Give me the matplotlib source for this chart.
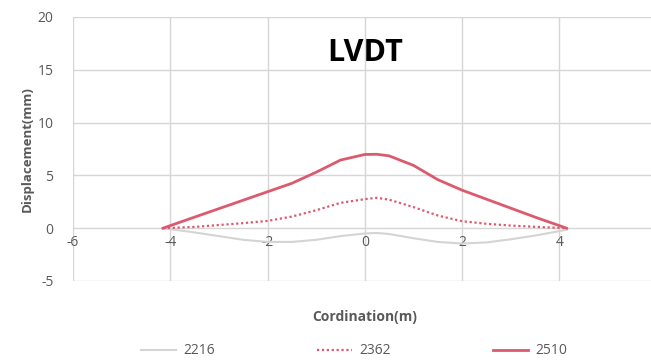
import numpy as np
import matplotlib
matplotlib.use("Agg")
import matplotlib.pyplot as plt

plt.rcParams['font.family'] = ['Open Sans', 'DejaVu Sans']
plt.rcParams['axes.unicode_minus'] = False

# ==========================================
# 数据
# ==========================================
x_pos = [-4.15, -3.5, -3.0, -2.5, -2.0, -1.5, -1.0, -0.5, 0.0, 0.25, 0.5, 1.0, 1.5, 2.0, 2.5, 3.0, 3.5, 4.15]
y_2216 = [0.0, -0.4, -0.75, -1.1, -1.3, -1.3, -1.1, -0.75, -0.5, -0.45, -0.55, -0.95, -1.3, -1.45, -1.35, -1.05, -0.7, -0.15]
y_2362 = [0.0, 0.12, 0.3, 0.48, 0.69, 1.1, 1.7, 2.4, 2.75, 2.88, 2.7, 2.0, 1.2, 0.66, 0.42, 0.25, 0.13, 0.0]
y_2510 = [0.0, 1.05, 1.85, 2.65, 3.45, 4.25, 5.3, 6.45, 6.98, 7.0, 6.85, 5.95, 4.6, 3.6, 2.75, 1.9, 1.05, 0.0]

x_ticks = [-6, -4, -2, 0, 2, 4, 6]
y_ticks = [-5, 0, 5, 10, 15, 20]

RED = '#DC5A6E'
GRAY_LINE = '#D4D4D4'
GRID = '#D6D6D6'
TXT = '#595959'

fig = plt.figure(figsize=(6.51, 3.63), dpi=100, facecolor='white')
ax = fig.add_axes([0.1121, 0.2259, 0.8965, 0.7273])

ax.plot(x_pos, y_2216, color=GRAY_LINE, lw=1.5, label='2216')
ax.plot(x_pos, y_2362, color=RED, lw=1.6, ls=(0, (1, 1.2)), label='2362')
ax.plot(x_pos, y_2510, color=RED, lw=2.0, label='2510')

ax.set_xlim(-6, 6)
ax.set_ylim(-5, 20)
ax.set_xticks(x_ticks)
ax.set_yticks(y_ticks)
ax.set_xticklabels([str(t) if t != 6 else '' for t in x_ticks])
ax.grid(True, color=GRID, lw=1.0)
ax.set_axisbelow(True)

for s in ['top', 'right', 'left']:
    ax.spines[s].set_visible(False)
ax.spines['bottom'].set_position(('data', 0))
ax.spines['bottom'].set_visible(False)
ax.tick_params(axis='both', length=0, labelsize=10, labelcolor=TXT)
ax.tick_params(axis='x', pad=5)
ax.tick_params(axis='y', pad=14)

ax.text(0, 16.6, 'LVDT', fontsize=22, fontweight='bold', ha='center', va='center', color='black')

ax.set_ylabel('Displacement(mm)', fontsize=9.5, fontweight='bold', color=TXT, labelpad=3)
fig.text(365 / 651, 1 - 317 / 363, 'Cordination(m)', fontsize=10, fontweight='bold',
         color=TXT, ha='center', va='center')

fig.legend(loc='center', bbox_to_anchor=(354 / 651, 1 - 351 / 363), ncol=3, frameon=False,
           fontsize=10, labelcolor=TXT, handlelength=2.5, handletextpad=0.5, columnspacing=7.4)

plt.savefig('out.png', dpi=100)
